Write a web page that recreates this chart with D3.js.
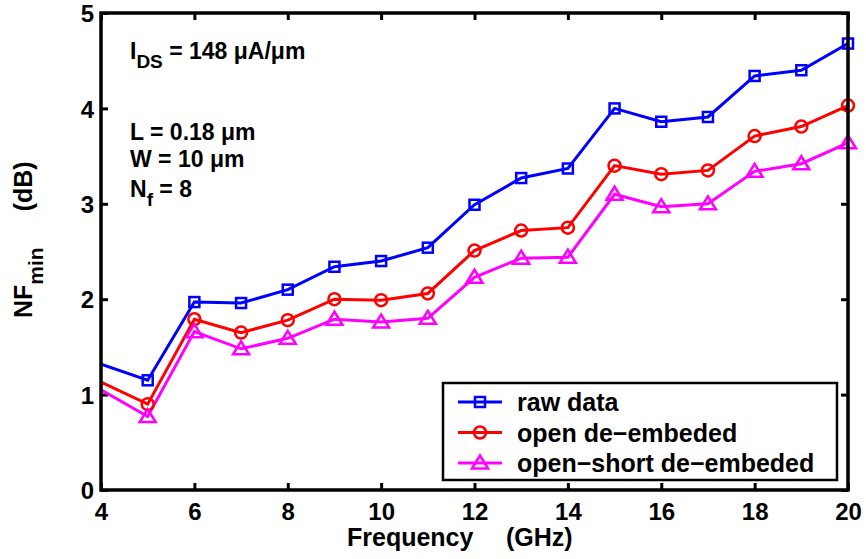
<!DOCTYPE html>
<html lang="en">
<head>
<meta charset="utf-8">
<script src="https://d3js.org/d3.v7.min.js"></script>
<style>
  body { margin: 0; background: #fff; }
  text { font-family: "Liberation Sans", Arial, sans-serif; font-weight: bold; fill: #000; }
  .tick text { font-size: 24px; }
</style>
</head>
<body>
<div id="chart"></div>
<script>
// frequency points (GHz)
const freqs = [4, 5, 6, 7, 8, 9, 10, 11, 12, 13, 14, 15, 16, 17, 18, 19, 20];
// NFmin (dB) for each series
const rawData   = [1.32, 1.15, 1.97, 1.96, 2.10, 2.34, 2.40, 2.54, 2.99, 3.27, 3.37, 4.00, 3.86, 3.91, 4.34, 4.40, 4.68];
const openDe    = [1.13, 0.90, 1.79, 1.65, 1.78, 2.00, 1.99, 2.06, 2.51, 2.72, 2.75, 3.40, 3.31, 3.35, 3.71, 3.81, 4.03];
const openShort = [1.05, 0.77, 1.66, 1.48, 1.59, 1.79, 1.76, 1.80, 2.23, 2.43, 2.44, 3.10, 2.97, 3.00, 3.34, 3.42, 3.64];
const seriesNames = ['raw data', 'open de\u2212embeded', 'open\u2212short de\u2212embeded'];
const xTicks = [4, 6, 8, 10, 12, 14, 16, 18, 20];
const yTicks = [0, 1, 2, 3, 4, 5];

const series = [
  { name: seriesNames[0], values: rawData,   color: '#0000ff', marker: 'square' },
  { name: seriesNames[1], values: openDe,    color: '#ff0000', marker: 'circle' },
  { name: seriesNames[2], values: openShort, color: '#ff00ff', marker: 'triangle' }
];

const width = 866, height = 559;
const margin = { left: 101, right: 18, top: 13, bottom: 69 };
const innerWidth = width - margin.left - margin.right;
const innerHeight = height - margin.top - margin.bottom;

const svg = d3.select('#chart').append('svg')
  .attr('width', width).attr('height', height);

const g = svg.append('g').attr('transform', `translate(${margin.left},${margin.top})`);

const x = d3.scaleLinear().domain([4, 20]).range([0, innerWidth]);
const y = d3.scaleLinear().domain([0, 5]).range([innerHeight, 0]);

g.append('clipPath').attr('id', 'clip')
  .append('rect').attr('width', innerWidth).attr('height', innerHeight);

// axes: ticks pointing inward, MATLAB style box
const tickLen = 7;
const xAxisB = g.append('g').attr('transform', `translate(0,${innerHeight})`)
  .call(d3.axisBottom(x).tickValues(xTicks).tickSize(-tickLen).tickFormat(d3.format('d')));
const xAxisT = g.append('g')
  .call(d3.axisTop(x).tickValues(xTicks).tickSize(-tickLen));
const yAxisL = g.append('g')
  .call(d3.axisLeft(y).tickValues(yTicks).tickSize(-tickLen).tickPadding(7).tickFormat(d3.format('d')));
const yAxisR = g.append('g').attr('transform', `translate(${innerWidth},0)`)
  .call(d3.axisRight(y).tickValues(yTicks).tickSize(-tickLen));

[xAxisB, xAxisT, yAxisL, yAxisR].forEach(a => {
  a.select('.domain').remove();
  a.selectAll('.tick line').attr('stroke', '#000').attr('stroke-width', 3);
});
// mirrored ticks carry no labels
xAxisT.selectAll('.tick text').remove();
yAxisR.selectAll('.tick text').remove();
xAxisB.selectAll('.tick text').attr('y', 30).attr('dy', null);
yAxisL.selectAll('.tick text').attr('dy', '0.36em');

// lines
const line = d3.line().x((d, i) => x(freqs[i])).y(d => y(d));
const plot = g.append('g').attr('clip-path', 'url(#clip)');

function drawMarker(sel, type, color) {
  if (type === 'square') {
    sel.append('rect').attr('x', -5).attr('y', -5).attr('width', 10).attr('height', 10)
      .attr('fill', 'none').attr('stroke', color).attr('stroke-width', 2.5);
  } else if (type === 'circle') {
    sel.append('circle').attr('r', 6)
      .attr('fill', 'none').attr('stroke', color).attr('stroke-width', 2.5);
  } else {
    sel.append('path').attr('d', 'M0,-7.5 L8,5.5 L-8,5.5 Z')
      .attr('fill', 'none').attr('stroke', color).attr('stroke-width', 2.5)
      .attr('stroke-linejoin', 'miter');
  }
}

series.forEach(s => {
  plot.append('path').datum(s.values)
    .attr('fill', 'none').attr('stroke', s.color).attr('stroke-width', 3)
    .attr('d', line);
  // first point sits on the left edge (data continue below 4 GHz), no marker there
  s.values.forEach((v, i) => {
    if (i === 0) return;
    const m = g.append('g').attr('transform', `translate(${x(freqs[i])},${y(v)})`);
    drawMarker(m, s.marker, s.color);
  });
});

// box
g.append('rect').attr('width', innerWidth).attr('height', innerHeight)
  .attr('fill', 'none').attr('stroke', '#000').attr('stroke-width', 3.5);

// annotations
const ann = g.append('g').style('font-size', '23px');
const t1 = ann.append('text').attr('x', 29).attr('y', 46);
t1.append('tspan').text('I');
t1.append('tspan').attr('dy', 9).style('font-size', '19px').text('DS');
t1.append('tspan').attr('dy', -9).text(' = 148 \u03bcA/\u03bcm');
ann.append('text').attr('x', 29).attr('y', 127).text('L = 0.18 \u03bcm');
ann.append('text').attr('x', 29).attr('y', 154).text('W = 10 \u03bcm');
const t4 = ann.append('text').attr('x', 29).attr('y', 184);
t4.append('tspan').text('N');
t4.append('tspan').attr('dy', 9).style('font-size', '19px').text('f');
t4.append('tspan').attr('dy', -9).text(' = 8');

// legend
const lg = g.append('g').attr('transform', `translate(${443 - margin.left},${383 - margin.top})`);
lg.append('rect').attr('width', 394).attr('height', 97)
  .attr('fill', '#fff').attr('stroke', '#000').attr('stroke-width', 2.5);
series.forEach((s, i) => {
  const row = lg.append('g').attr('transform', `translate(0,${19 + i * 30.5})`);
  row.append('line').attr('x1', 15).attr('x2', 59).attr('stroke', s.color).attr('stroke-width', 3);
  const m = row.append('g').attr('transform', 'translate(37,0)');
  drawMarker(m, s.marker, s.color);
  row.append('text').attr('x', 74).attr('dy', '0.36em').style('font-size', '25px').text(s.name);
});

// axis labels
svg.append('text').attr('x', 347).attr('y', 546).style('font-size', '25px').text('Frequency');
svg.append('text').attr('x', 506).attr('y', 546).style('font-size', '25px').text('(GHz)');

const yl = svg.append('text').attr('transform', 'translate(32,318) rotate(-90)')
  .style('font-size', '25px');
yl.append('tspan').text('NF');
yl.append('tspan').attr('dy', 11).style('font-size', '21px').text('min');
yl.append('tspan').attr('dy', -11).attr('dx', 36).text('(dB)');
</script>
</body>
</html>
